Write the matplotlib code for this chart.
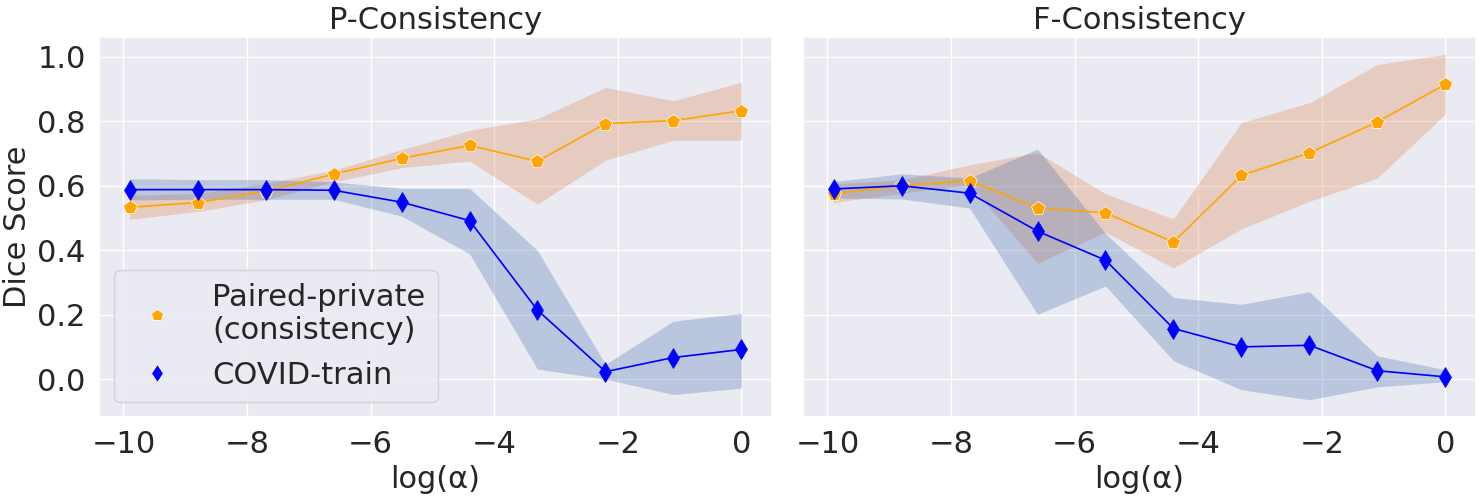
import numpy as np
import matplotlib
matplotlib.use("Agg")
import matplotlib.pyplot as plt
import seaborn as sns
from matplotlib.lines import Line2D

# log(alpha) values on the x axis
log_alpha = [-9.9, -8.8, -7.7, -6.6, -5.5, -4.4, -3.3, -2.2, -1.1, 0.0]

# P-Consistency panel
p_paired_mean = [0.533, 0.548, 0.583, 0.636, 0.685, 0.725, 0.676, 0.793, 0.802, 0.833]
p_paired_low = [0.496, 0.520, 0.556, 0.612, 0.656, 0.677, 0.543, 0.679, 0.741, 0.741]
p_paired_high = [0.570, 0.576, 0.607, 0.648, 0.712, 0.772, 0.808, 0.905, 0.864, 0.921]
p_covid_mean = [0.588, 0.588, 0.588, 0.586, 0.549, 0.492, 0.214, 0.023, 0.067, 0.092]
p_covid_low = [0.556, 0.558, 0.558, 0.558, 0.506, 0.389, 0.031, 0.000, -0.048, -0.028]
p_covid_high = [0.622, 0.619, 0.619, 0.612, 0.592, 0.592, 0.399, 0.046, 0.180, 0.204]

# F-Consistency panel
f_paired_mean = [0.575, 0.601, 0.615, 0.531, 0.516, 0.425, 0.632, 0.702, 0.798, 0.915]
f_paired_low = [0.548, 0.577, 0.603, 0.359, 0.456, 0.345, 0.466, 0.552, 0.624, 0.823]
f_paired_high = [0.606, 0.618, 0.665, 0.703, 0.575, 0.497, 0.796, 0.858, 0.976, 1.008]
f_covid_mean = [0.590, 0.600, 0.577, 0.459, 0.369, 0.157, 0.100, 0.105, 0.026, 0.007]
f_covid_low = [0.562, 0.559, 0.531, 0.201, 0.289, 0.057, -0.033, -0.064, -0.024, -0.008]
f_covid_high = [0.613, 0.637, 0.624, 0.714, 0.452, 0.253, 0.232, 0.271, 0.072, 0.029]

titles = ["P-Consistency", "F-Consistency"]
labels = ["Paired-private\n(consistency)", "COVID-train"]

sns.set_theme(style="darkgrid", font_scale=2)
band_colors = sns.color_palette("deep")

fig, axes = plt.subplots(1, 2, figsize=(14.83, 4.97), dpi=100, sharey=True)
fig.subplots_adjust(left=99 / 1483, right=1476 / 1483, top=1 - 37 / 497,
                    bottom=1 - 417 / 497, wspace=0.046)

panels = [
    (p_paired_mean, p_paired_low, p_paired_high, p_covid_mean, p_covid_low, p_covid_high),
    (f_paired_mean, f_paired_low, f_paired_high, f_covid_mean, f_covid_low, f_covid_high),
]

for ax, title, data in zip(axes, titles, panels):
    pm, pl, ph, cm, cl, ch = data
    ax.fill_between(log_alpha, pl, ph, color=band_colors[1], alpha=0.3, linewidth=0)
    ax.fill_between(log_alpha, cl, ch, color=band_colors[0], alpha=0.3, linewidth=0)
    ax.plot(log_alpha, pm, color="orange", linewidth=1.2, marker="p",
            markersize=10, markeredgecolor="white", markeredgewidth=0.5)
    ax.plot(log_alpha, cm, color="blue", linewidth=1.2, marker="d",
            markersize=10.5, markeredgecolor="blue", markeredgewidth=0.5)
    ax.set_title(title, fontsize=22)
    ax.set_xlabel("log(α)", fontsize=22)
    ax.set_xticks([-10, -8, -6, -4, -2, 0])
    ax.tick_params(labelsize=22)

axes[0].set_ylabel("Dice Score", fontsize=22)
axes[0].set_yticks([0.0, 0.2, 0.4, 0.6, 0.8, 1.0])

handles = [
    Line2D([], [], linestyle="none", marker="p", color="orange", markersize=9,
           markeredgecolor="white", markeredgewidth=0.6),
    Line2D([], [], linestyle="none", marker="d", color="blue", markersize=9.5,
           markeredgecolor="white", markeredgewidth=0.6),
]
axes[0].legend(handles, labels, loc="lower left", fontsize=22)

fig.savefig("out.png", dpi=100)
